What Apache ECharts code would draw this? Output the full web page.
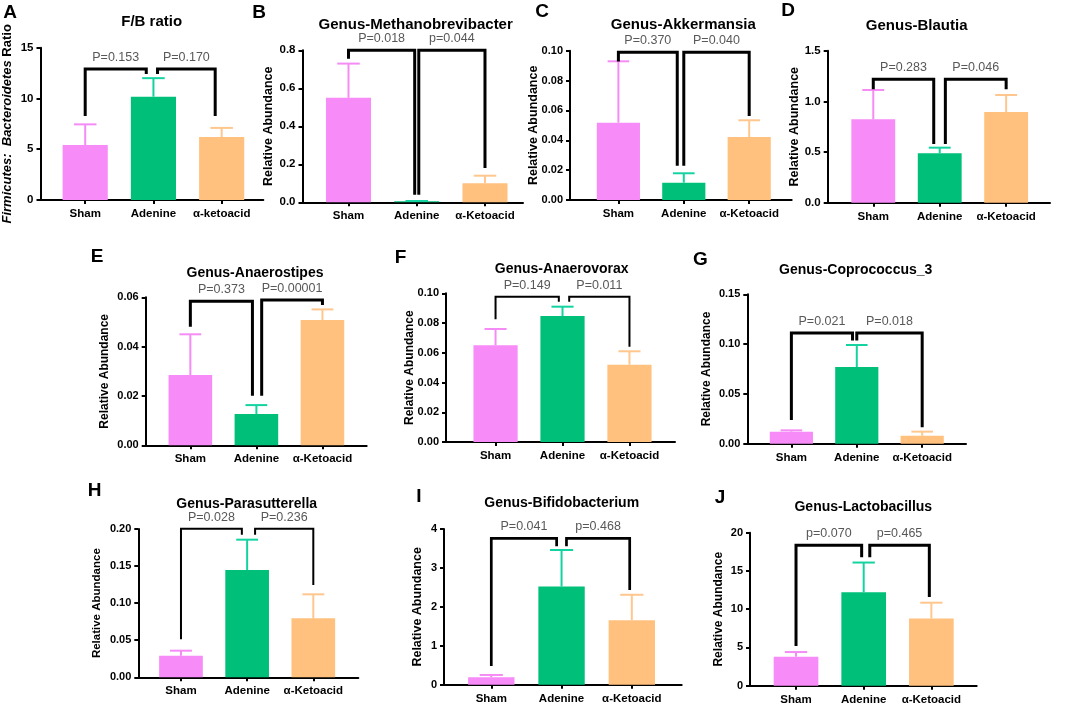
<!DOCTYPE html>
<html><head><meta charset="utf-8">
<script src="https://cdn.jsdelivr.net/npm/echarts@6/dist/echarts.min.js"></script>
<style>html,body{margin:0;padding:0;background:#fff}#c{width:1065px;height:706px}</style>
</head><body><div id="c"></div>
<script>
// ---------- DATA ----------
const groups = ['Sham', 'Adenine', 'α-Ketoacid'];
const groupsA = ['Sham', 'Adenine', 'α-ketoacid'];
const panelLetters = ['A','B','C','D','E','F','G','H','I','J'];
const panelTitles = ['F/B ratio','Genus-Methanobrevibacter','Genus-Akkermansia','Genus-Blautia',
  'Genus-Anaerostipes','Genus-Anaerovorax','Genus-Coprococcus_3','Genus-Parasutterella',
  'Genus-Bifidobacterium','Genus-Lactobacillus'];
const yMax      = [15, 0.8, 0.10, 1.5, 0.06, 0.10, 0.15, 0.20, 4, 20];
const yStep     = [5, 0.2, 0.02, 0.5, 0.02, 0.02, 0.05, 0.05, 1, 5];
const yDecimals = [0, 1, 2, 1, 2, 2, 2, 2, 0, 0];

// group means (Sham, Adenine, α-Ketoacid)
const meanA = [5.42, 10.17, 6.2];
const meanB = [0.55, 0.005, 0.10];
const meanC = [0.0518, 0.0116, 0.0422];
const meanD = [0.823, 0.487, 0.895];
const meanE = [0.0285, 0.0127, 0.0508];
const meanF = [0.065, 0.0847, 0.052];
const meanG = [0.0121, 0.077, 0.008];
const meanH = [0.029, 0.1447, 0.0795];
const meanI = [0.19, 2.52, 1.655];
const meanJ = [3.79, 12.2, 8.8];
// upper error (SEM)
const semA = [2.03, 1.83, 0.9];
const semB = [0.18, 0.002, 0.04];
const semC = [0.0411, 0.0063, 0.0112];
const semD = [0.289, 0.056, 0.168];
const semE = [0.0165, 0.0036, 0.0043];
const semF = [0.011, 0.0063, 0.009];
const semG = [0.0013, 0.0221, 0.0041];
const semH = [0.0069, 0.0409, 0.0324];
const semI = [0.06, 0.94, 0.655];
const semJ = [0.61, 3.9, 2.05];
// significance brackets: [x left, y left end, x right, y right end, y top]
const bracketsA = [[0, 8.27, 0.895, 12.4, 12.9], [1.06, 12.4, 1.905, 8.27, 12.9]];
const bracketsB = [[0, 0.755, 0.97, 0.04, 0.8], [1.03, 0.04, 2.0, 0.18, 0.8]];
const bracketsC = [[0, 0.0927, 0.9, 0.023, 0.0989], [1.0, 0.023, 2.0, 0.0563, 0.0989]];
const bracketsD = [[0, 1.119, 0.91, 0.579, 1.218], [1.085, 0.579, 2.0, 1.119, 1.218]];
const bracketsE = [[0, 0.0481, 0.94, 0.0201, 0.0584], [1.08, 0.0201, 2.0, 0.0569, 0.0589]];
const bracketsF = [[0, 0.0825, 0.945, 0.0944, 0.0977], [1.1, 0.0944, 2.0, 0.064, 0.0977]];
const bracketsG = [[0, 0.0238, 0.935, 0.1035, 0.1112], [1.0, 0.1035, 2.0, 0.0165, 0.1112]];
const bracketsH = [[0, 0.0512, 0.92, 0.1923, 0.2004], [1.12, 0.1923, 2.0, 0.1245, 0.2004]];
const bracketsI = [[0, 0.48, 0.93, 3.56, 3.76], [1.07, 3.56, 1.97, 2.43, 3.76]];
const bracketsJ = [[0, 5.19, 0.97, 16.8, 18.35], [1.09, 16.8, 1.97, 11.6, 18.35]];
const pLabelsA = ['P=0.153', 'P=0.170'];
const pLabelsB = ['P=0.018', 'p=0.044'];
const pLabelsC = ['P=0.370', 'P=0.040'];
const pLabelsD = ['P=0.283', 'P=0.046'];
const pLabelsE = ['P=0.373', 'P=0.00001'];
const pLabelsF = ['P=0.149', 'P=0.011'];
const pLabelsG = ['P=0.021', 'P=0.018'];
const pLabelsH = ['P=0.028', 'P=0.236'];
const pLabelsI = ['P=0.041', 'p=0.468'];
const pLabelsJ = ['p=0.070', 'p=0.465'];

const means = [meanA, meanB, meanC, meanD, meanE, meanF, meanG, meanH, meanI, meanJ];
const sems = [semA, semB, semC, semD, semE, semF, semG, semH, semI, semJ];
const brackets = [bracketsA, bracketsB, bracketsC, bracketsD, bracketsE, bracketsF, bracketsG, bracketsH, bracketsI, bracketsJ];
const pLabels = [pLabelsA, pLabelsB, pLabelsC, pLabelsD, pLabelsE, pLabelsF, pLabelsG, pLabelsH, pLabelsI, pLabelsJ];

// ---------- LAYOUT / STYLE ----------
const layout = [
  {ax: 40,    top: 47.7,  bot: 200,   right: 263.3, xMin: -0.655, xMax: 2.61,  nameX: 7,     title: [151.7, 21.7], letter: [10, 13]},
  {ax: 302.5, top: 50.3,  bot: 202.3, right: 523,   xMin: -0.674, xMax: 2.557, nameX: 269,   title: [415.7, 25],   letter: [259, 13]},
  {ax: 570,   top: 50.7,  bot: 200,   right: 791.7, xMin: -0.74,  xMax: 2.65,  nameX: 534,   title: [683.3, 25],   letter: [542, 12]},
  {ax: 827.7, top: 50.7,  bot: 202.7, right: 1050,  xMin: -0.686, xMax: 2.66,  nameX: 795,   title: [916.7, 26],   letter: [788, 11]},
  {ax: 145.7, top: 297.3, bot: 445.3, right: 366.7, xMin: -0.676, xMax: 2.67,  nameX: 105,   title: [255, 272.7],  letter: [97, 257]},
  {ax: 446,   top: 293.3, bot: 442,   right: 675,   xMin: -0.74,  xMax: 2.68,  nameX: 409.3, title: [561.7, 269],  letter: [400.5, 257.5]},
  {ax: 747.3, top: 294.3, bot: 443.7, right: 966,   xMin: -0.674, xMax: 2.67,  nameX: 706.7, title: [855.7, 270],  letter: [700.5, 260]},
  {ax: 138.3, top: 529,   bot: 677.3, right: 358.3, xMin: -0.645, xMax: 2.68,  nameX: 96.7,  title: [246.7, 504],  letter: [94.5, 491]},
  {ax: 444,   top: 529,   bot: 684.7, right: 681.7, xMin: -0.673, xMax: 2.71,  nameX: 417.3, title: [561.7, 503.3],letter: [419, 497]},
  {ax: 750,   top: 532.7, bot: 685.7, right: 976.7, xMin: -0.68,  xMax: 2.67,  nameX: 718.3, title: [863.3, 506.7],letter: [720, 498]}
];
const tickSize  = [11.5, 11.5, 11, 11.5, 11, 11, 11, 11, 11, 11];
const titleSize = [15, 15, 15, 15, 14, 14, 14, 14, 14, 14];
const nameSize  = [13, 12.5, 12.5, 12.5, 12, 12, 12, 11.5, 12.5, 12];
const bracketW  = [3, 3, 3, 3, 3, 2, 3, 2, 2.7, 3];

const FONT = '"Liberation Sans", Arial, Helvetica, sans-serif';
const barColors = ['#F78BF7', '#00BF78', '#FFC17D'];
const errColors = ['#F58CF5', '#14D3A0', '#FFC78E'];

const grids = [], xAxes = [], yAxes = [], series = [], graphics = [];

layout.forEach((L, i) => {
  const cats = i === 0 ? groupsA : groups;
  const w = L.right - L.ax, h = L.bot - L.top;
  const spacing = w / (L.xMax - L.xMin);
  grids.push({left: L.ax, top: L.top, width: w, height: h, containLabel: false});
  xAxes.push({
    type: 'value', gridIndex: i, min: L.xMin, max: L.xMax,
    axisLine: {show: true, onZero: false, lineStyle: {color: '#000', width: 2}},
    axisTick: {show: true, customValues: [0, 1, 2], length: 4, lineStyle: {color: '#000', width: 2}},
    axisLabel: {customValues: [0, 1, 2], formatter: v => cats[Math.round(v)] || '',
      color: '#000', fontWeight: 'bold', fontSize: 11.5, fontFamily: FONT, margin: 8},
    splitLine: {show: false}
  });
  const isA = i === 0;
  yAxes.push({
    type: 'value', gridIndex: i, min: 0, max: yMax[i], interval: yStep[i],
    axisLine: {show: true, onZero: false, lineStyle: {color: '#000', width: 2}},
    axisTick: {show: true, length: 4, lineStyle: {color: '#000', width: 2}},
    axisLabel: {formatter: v => v.toFixed(yDecimals[i]), color: '#000', fontWeight: 'bold',
      fontSize: tickSize[i], fontFamily: FONT, margin: 7},
    splitLine: {show: false},
    name: isA ? '{it|Firmicutes:}  {it|Bacteroidetes} {n|Ratio}' : 'Relative Abundance',
    nameLocation: 'middle',
    nameMoveOverlap: false,
    nameGap: L.ax - L.nameX - nameSize[i] / 2,
    nameTextStyle: isA ? {
      fontSize: 13, color: '#000', fontFamily: FONT,
      rich: {it: {fontStyle: 'italic', fontWeight: 'bold', fontSize: 13, fontFamily: FONT, color: '#000'},
             n: {fontWeight: 'bold', fontSize: 13, fontFamily: FONT, color: '#000'}}
    } : {fontSize: nameSize[i], fontWeight: 'bold', color: '#000', fontFamily: FONT}
  });
  series.push({
    type: 'bar', xAxisIndex: i, yAxisIndex: i, barWidth: spacing * 0.66, z: 2,
    data: means[i].map((v, k) => ({value: [k, v], itemStyle: {color: barColors[k]}})),
    animation: false
  });
  series.push({
    type: 'custom', xAxisIndex: i, yAxisIndex: i, z: 3, animation: false,
    encode: {x: 0, y: 1},
    data: means[i].map((v, k) => [k, v, v + sems[i][k]]),
    renderItem: (params, api) => {
      const x = api.value(0);
      const p0 = api.coord([x, api.value(1)]);
      const p1 = api.coord([x, api.value(2)]);
      const half = api.size([1, 0])[0] * 0.165;
      const c = errColors[params.dataIndex];
      return {type: 'group', children: [
        {type: 'line', shape: {x1: p0[0], y1: p0[1], x2: p1[0], y2: p1[1]}, style: {stroke: c, lineWidth: 2}},
        {type: 'line', shape: {x1: p1[0] - half, y1: p1[1], x2: p1[0] + half, y2: p1[1]}, style: {stroke: c, lineWidth: 2}}
      ]};
    }
  });
  series.push({
    type: 'custom', xAxisIndex: i, yAxisIndex: i, z: 4, animation: false, clip: false,
    encode: {x: 0, y: 1},
    data: brackets[i],
    renderItem: (params, api) => {
      const xl = api.value(0), yl = api.value(1), xr = api.value(2), yr = api.value(3), yt = api.value(4);
      const a = api.coord([xl, yl]), b = api.coord([xl, yt]), c = api.coord([xr, yt]), d = api.coord([xr, yr]);
      return {type: 'group', children: [
        {type: 'polyline', shape: {points: [a, b, c, d]},
         style: {stroke: '#000', lineWidth: bracketW[i], fill: null, lineJoin: 'miter', lineCap: 'butt'}},
        {type: 'text', x: (b[0] + c[0]) / 2, y: b[1] - 11.5,
         style: {text: pLabels[i][params.dataIndex], align: 'center', verticalAlign: 'middle',
                 fill: '#585858', fontSize: 12.5, fontFamily: FONT}}
      ]};
    }
  });
  graphics.push({type: 'text', x: L.title[0], y: L.title[1], silent: true,
    style: {text: panelTitles[i], align: 'center', verticalAlign: 'middle', fill: '#000',
            fontSize: titleSize[i], fontWeight: 'bold', fontFamily: FONT}});
  graphics.push({type: 'text', x: L.letter[0], y: L.letter[1], silent: true,
    style: {text: panelLetters[i], align: 'center', verticalAlign: 'middle', fill: '#000',
            fontSize: 19, fontWeight: 'bold', fontFamily: FONT}});
});

const chart = echarts.init(document.getElementById('c'), null, {renderer: 'canvas'});
chart.setOption({
  backgroundColor: '#fff',
  animation: false,
  grid: grids, xAxis: xAxes, yAxis: yAxes, series: series, graphic: graphics
});
</script>
</body></html>
